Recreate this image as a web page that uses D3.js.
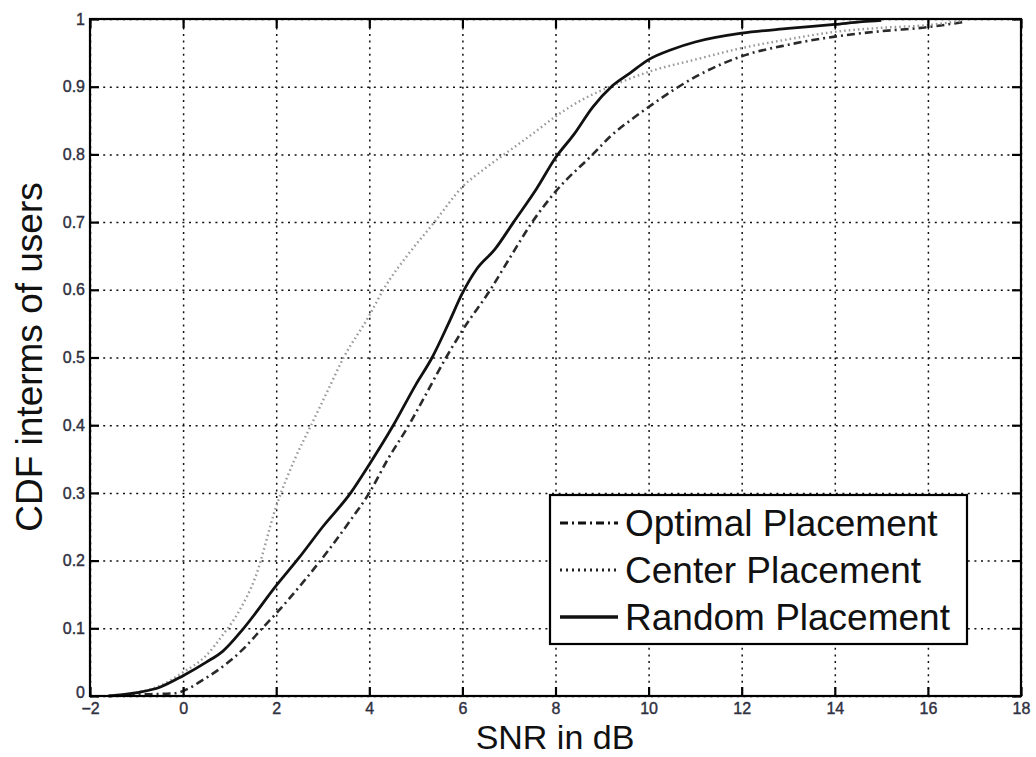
<!DOCTYPE html>
<html>
<head>
<meta charset="utf-8">
<script src="https://cdn.jsdelivr.net/npm/d3@7"></script>
<style>
  body { margin: 0; background: #fff; }
  text { font-family: "Liberation Sans", Arial, Helvetica, sans-serif; }
</style>
</head>
<body>
<div id="chart"></div>
<script>
// data
var xTicks = [-2, 0, 2, 4, 6, 8, 10, 12, 14, 16, 18]
var yTicks = [0, 0.1, 0.2, 0.3, 0.4, 0.5, 0.6, 0.7, 0.8, 0.9, 1]

var optimalSnr = [-1.6, -1, -0.2, 0.5, 1.3, 1.7, 2, 2.6, 3.12, 3.6, 4, 4.4, 4.85, 5.25, 5.65, 6, 6.6, 7, 7.5, 8, 8.8, 9.2, 9.66, 10, 10.6, 11.1, 12, 13, 14, 15, 16, 16.8]
var optimalCdf = [0, 0.002, 0.004, 0.027, 0.07, 0.1, 0.122, 0.17, 0.215, 0.26, 0.3, 0.35, 0.4, 0.45, 0.5, 0.54, 0.6, 0.645, 0.7, 0.745, 0.8, 0.828, 0.853, 0.87, 0.898, 0.918, 0.945, 0.962, 0.974, 0.982, 0.988, 0.996]

var centerSnr = [-1.6, -1, -0.5, 0, 0.5, 0.85, 1.2, 1.55, 2, 2.4, 2.75, 3.1, 3.45, 4, 4.3, 4.9, 5.4, 6, 6.5, 7, 7.5, 8, 8.5, 9.1, 9.6, 10, 11, 12, 13, 14, 15, 16, 16.7]
var centerCdf = [0, 0.005, 0.015, 0.035, 0.06, 0.09, 0.125, 0.175, 0.28, 0.35, 0.4, 0.45, 0.5, 0.562, 0.6, 0.658, 0.7, 0.752, 0.78, 0.805, 0.83, 0.856, 0.878, 0.898, 0.912, 0.922, 0.94, 0.957, 0.97, 0.981, 0.987, 0.991, 0.997]

var randomSnr = [-1.6, -1.3, -0.9, -0.5, 0, 0.5, 0.85, 1.3, 2, 2.5, 3, 3.6, 4, 4.5, 5, 5.35, 5.7, 6, 6.3, 6.7, 7.1, 7.6, 8, 8.4, 8.8, 9.2, 9.6, 10, 10.5, 11, 12, 13, 14, 14.6, 15]
var randomCdf = [0, 0.002, 0.006, 0.013, 0.03, 0.05, 0.066, 0.1, 0.163, 0.205, 0.25, 0.3, 0.342, 0.398, 0.46, 0.5, 0.55, 0.595, 0.63, 0.66, 0.7, 0.75, 0.795, 0.83, 0.87, 0.9, 0.92, 0.94, 0.955, 0.966, 0.979, 0.986, 0.992, 0.996, 0.998]

var seriesNames = ["Optimal Placement", "Center Placement", "Random Placement"]

// set the dimensions of the graph
var width = 1036
var height = 757
var plotLeft = 90, plotRight = 1021, plotTop = 19, plotBottom = 696

var svg = d3.select("#chart")
    .append("svg")
    .attr("width", width)
    .attr("height", height)

var x = d3.scaleLinear().domain([-2, 18]).range([plotLeft, plotRight])
var y = d3.scaleLinear().domain([0, 1]).range([plotBottom, plotTop])

// grid
svg.append("g")
    .attr("transform", "translate(0," + plotBottom + ")")
    .call(d3.axisBottom(x).tickValues(xTicks).tickSize(-(plotBottom - plotTop)).tickFormat(""))
    .call(g => g.select(".domain").remove())
    .selectAll("line")
    .attr("stroke", "#111").attr("stroke-width", 1.5).attr("stroke-dasharray", "2,4.6")

svg.append("g")
    .attr("transform", "translate(" + plotLeft + ",0)")
    .call(d3.axisLeft(y).tickValues(yTicks).tickSize(-(plotRight - plotLeft)).tickFormat(""))
    .call(g => g.select(".domain").remove())
    .selectAll("line")
    .attr("stroke", "#111").attr("stroke-width", 1.5).attr("stroke-dasharray", "2,4.6")

// curves
var line = d3.line()
    .x(function (d) { return x(d[0]) })
    .y(function (d) { return y(d[1]) })
    .curve(d3.curveMonotoneX)

var series = [
    { xs: optimalSnr, ys: optimalCdf, color: "#2a2a2a", width: 2.6, dash: "8,4,2,4" },
    { xs: centerSnr, ys: centerCdf, color: "#9a9a9a", width: 2.4, dash: "1.6,3" },
    { xs: randomSnr, ys: randomCdf, color: "#111", width: 2.8, dash: null }
]

series.forEach(function (s) {
    svg.append("path")
        .datum(d3.zip(s.xs, s.ys))
        .attr("fill", "none")
        .attr("stroke", s.color)
        .attr("stroke-width", s.width)
        .attr("stroke-dasharray", s.dash)
        .attr("d", line)
})

// axes with inside ticks
var bottomAxis = svg.append("g")
    .attr("transform", "translate(0," + plotBottom + ")")
    .call(d3.axisBottom(x).tickValues(xTicks).tickSize(-9).tickPadding(7).tickFormat(d3.format("d")))
var leftAxis = svg.append("g")
    .attr("transform", "translate(" + plotLeft + ",0)")
    .call(d3.axisLeft(y).tickValues(yTicks).tickSize(-9).tickPadding(5).tickFormat(function (d) { return d3.format("")(d) }))
var topAxis = svg.append("g")
    .attr("transform", "translate(0," + plotTop + ")")
    .call(d3.axisTop(x).tickValues(xTicks).tickSize(-9).tickFormat(""))
var rightAxis = svg.append("g")
    .attr("transform", "translate(" + plotRight + ",0)")
    .call(d3.axisRight(y).tickValues(yTicks).tickSize(-9).tickFormat(""))

;[bottomAxis, leftAxis, topAxis, rightAxis].forEach(function (g) {
    g.select(".domain").remove()
    g.selectAll("line").attr("stroke", "#000").attr("stroke-width", 2.2)
    g.selectAll("text").style("font-size", "16px").attr("fill", "#2f3040")
        .attr("stroke", "#2f3040").attr("stroke-width", 0.4)
})
// lift the "0" of the y axis a little, as in the picture, so it clears "-2"
leftAxis.selectAll(".tick").filter(function (d) { return d === 0 }).select("text").attr("y", -4)

svg.append("rect")
    .attr("x", plotLeft).attr("y", plotTop)
    .attr("width", plotRight - plotLeft).attr("height", plotBottom - plotTop)
    .attr("fill", "none").attr("stroke", "#000").attr("stroke-width", 2.2)

// axis titles
svg.append("text")
    .attr("x", 555).attr("y", 749)
    .attr("text-anchor", "middle")
    .style("font-size", "34px")
    .attr("fill", "#111")
    .text("SNR in dB")

svg.append("text")
    .attr("transform", "translate(42,357) rotate(-90)")
    .attr("text-anchor", "middle")
    .style("font-size", "37px")
    .attr("fill", "#111")
    .text("CDF interms of users")

// legend
var legend = svg.append("g")
legend.append("rect")
    .attr("x", 550).attr("y", 495).attr("width", 417).attr("height", 149)
    .attr("fill", "#fff").attr("stroke", "#000").attr("stroke-width", 2.2)

var legendStyles = [
    { color: "#111", width: 3, dash: "8,4,2,4" },
    { color: "#222", width: 3, dash: "2,4" },
    { color: "#111", width: 3.4, dash: null }
]
var rowY = d3.scalePoint().domain(seriesNames).range([523, 617])

seriesNames.forEach(function (name, i) {
    legend.append("line")
        .attr("x1", 560).attr("x2", 618)
        .attr("y1", rowY(name)).attr("y2", rowY(name))
        .attr("stroke", legendStyles[i].color)
        .attr("stroke-width", legendStyles[i].width)
        .attr("stroke-dasharray", legendStyles[i].dash)
    legend.append("text")
        .attr("x", 625).attr("y", rowY(name))
        .attr("dy", "0.36em")
        .style("font-size", "37px")
        .attr("fill", "#111")
        .text(name)
})
</script>
</body>
</html>
